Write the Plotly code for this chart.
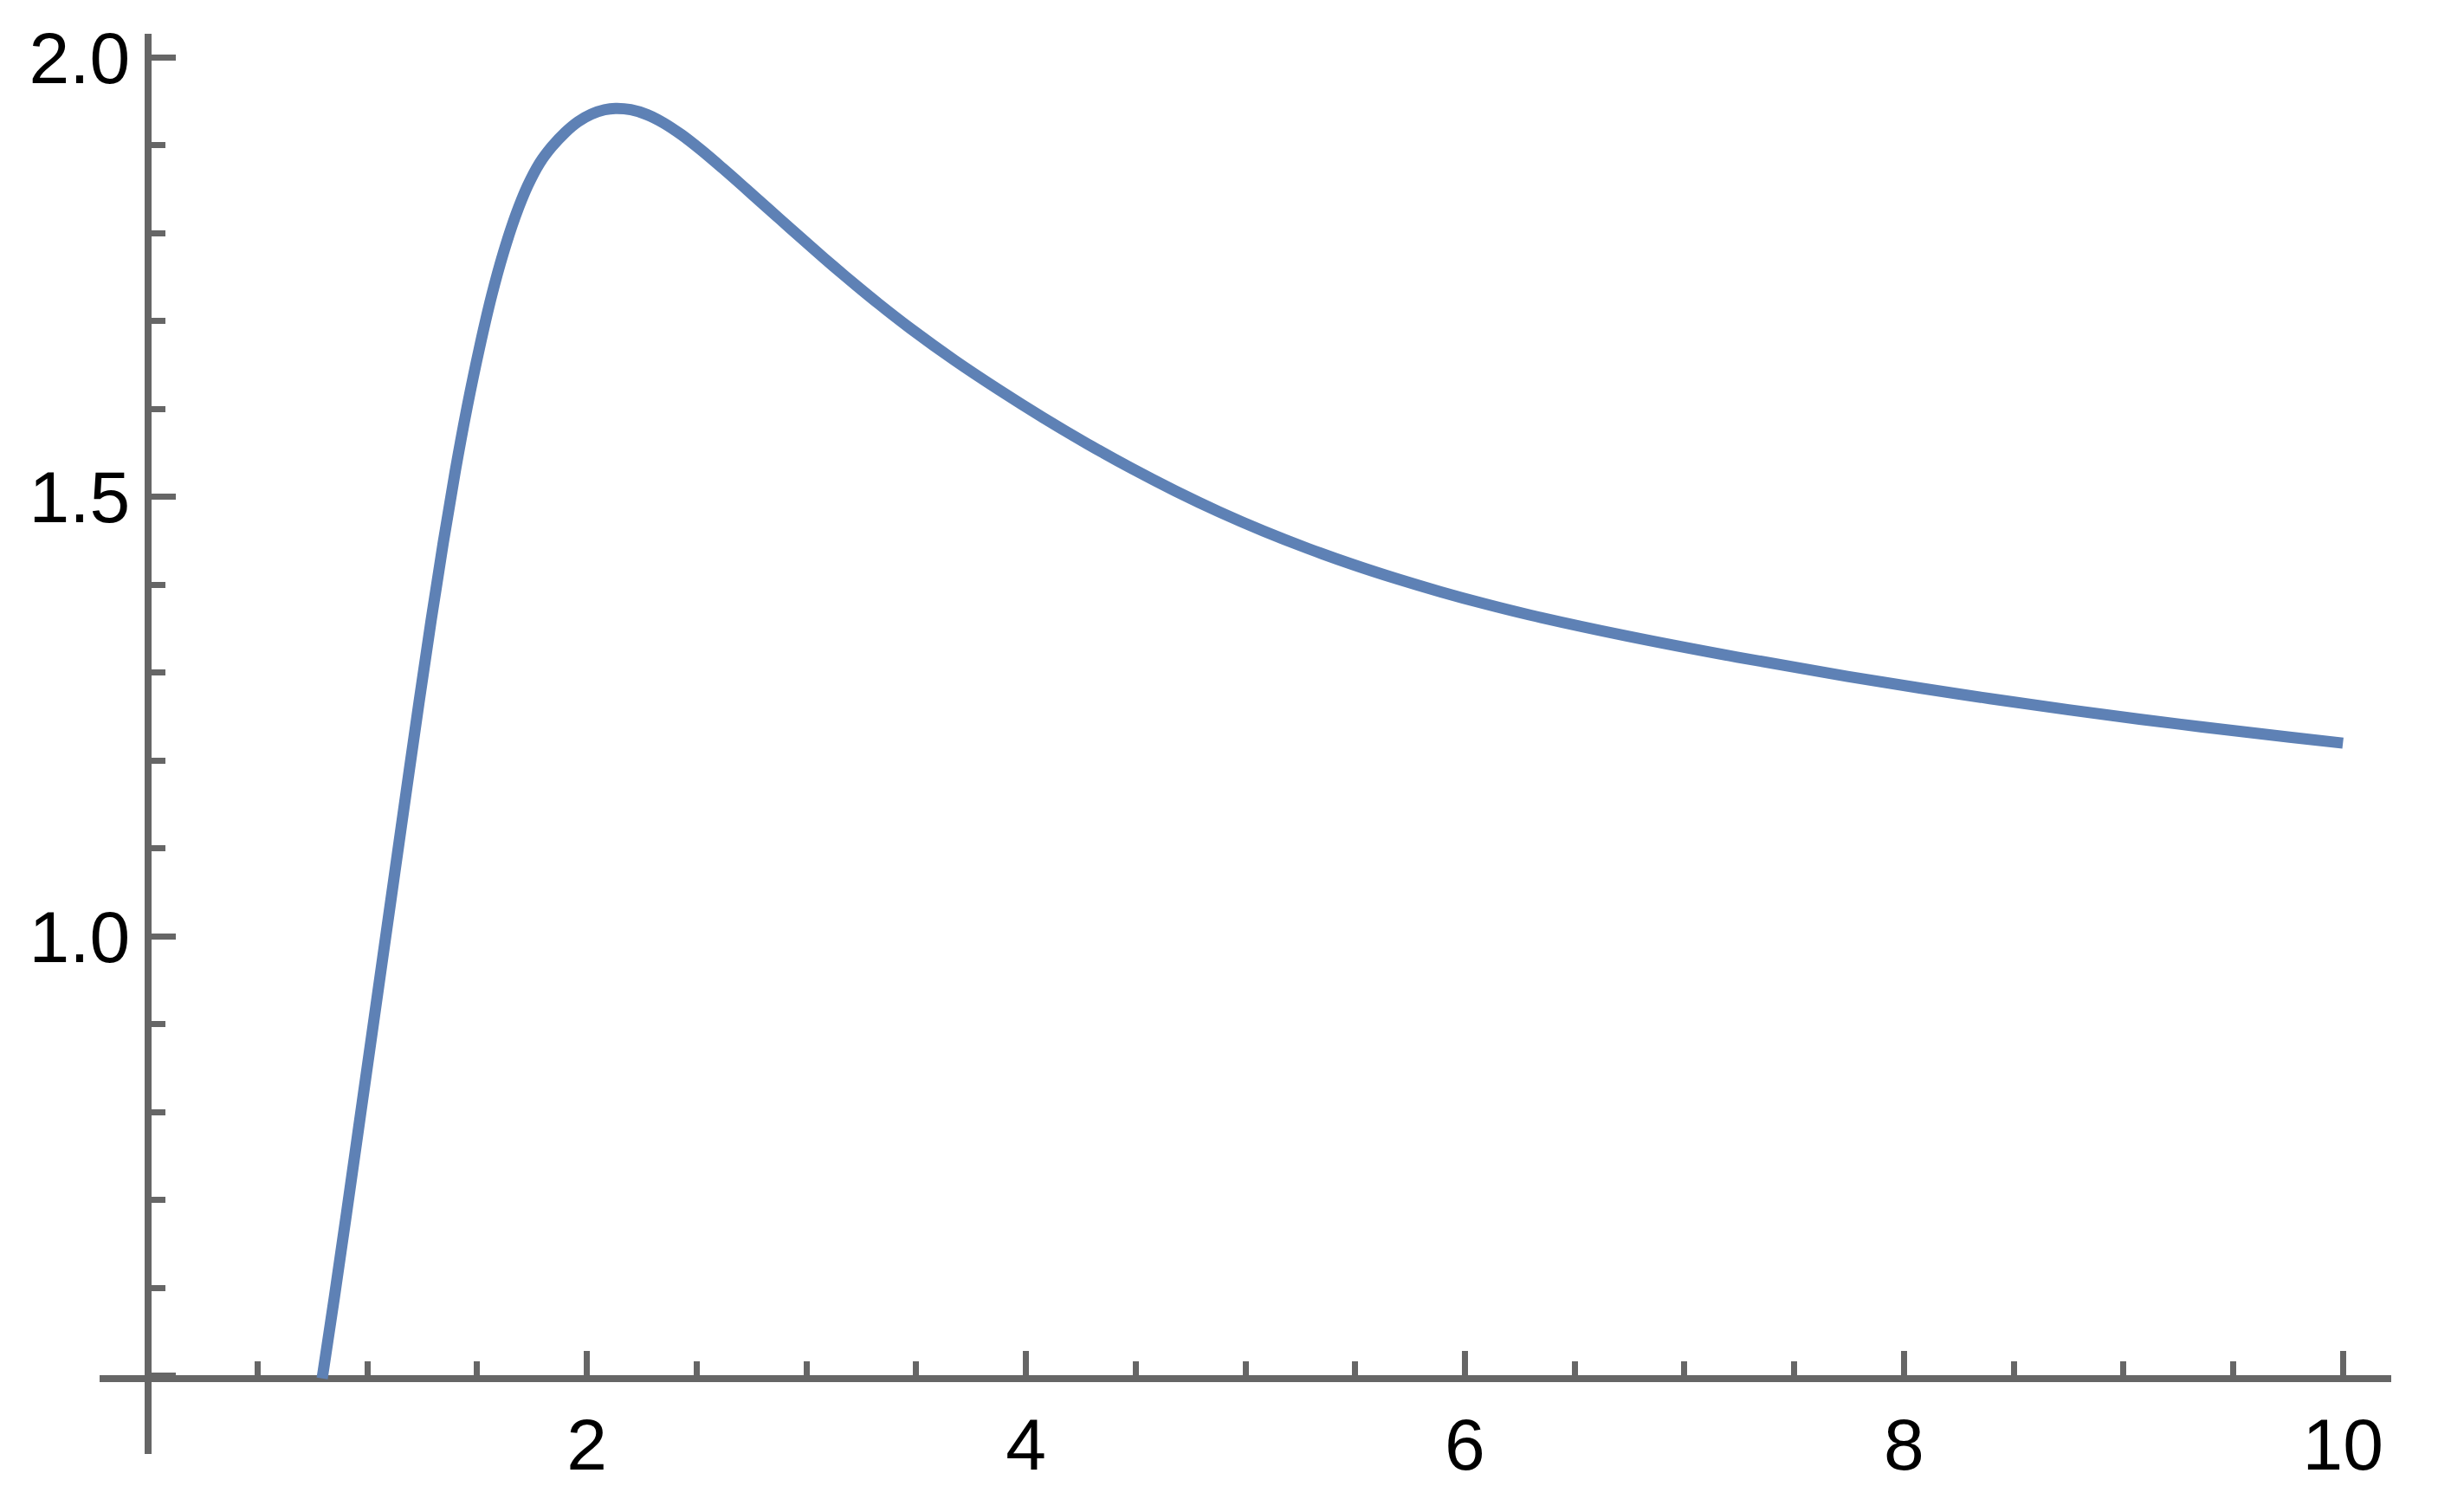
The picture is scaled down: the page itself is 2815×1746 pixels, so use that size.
import plotly.graph_objects as go

# Curve samples
x_vals = [0.794, 0.850, 0.905, 0.960, 1.015, 1.070, 1.125, 1.180, 1.235, 1.290,
          1.345, 1.400, 1.455, 1.510, 1.565, 1.620, 1.675, 1.730, 1.785, 1.840,
          1.900, 1.960, 2.020, 2.080, 2.130, 2.200, 2.274, 2.350, 2.430, 2.520,
          2.620, 2.725, 2.830, 2.926, 3.030, 3.127, 3.230, 3.329, 3.475, 3.676,
          3.877, 4.078, 4.280, 4.481, 4.682, 4.883, 5.085, 5.286, 5.488, 5.689,
          5.890, 6.091, 6.293, 6.737, 7.240, 7.743, 8.246, 8.750, 9.253, 9.757,
          10.0]
y_vals = [0.497, 0.590, 0.685, 0.782, 0.879, 0.976, 1.073, 1.170, 1.266, 1.359,
          1.447, 1.529, 1.603, 1.669, 1.728, 1.778, 1.820, 1.854, 1.880, 1.8985,
          1.9145, 1.927, 1.9355, 1.9405, 1.942, 1.9406, 1.935, 1.9255, 1.9123, 1.8948,
          1.8736, 1.8505, 1.8271, 1.8057, 1.7827, 1.7617, 1.7400, 1.7198, 1.6915, 1.6553,
          1.6219, 1.5903, 1.5604, 1.5325, 1.5066, 1.4827, 1.4609, 1.4412, 1.4232, 1.4069,
          1.3920, 1.3783, 1.3658, 1.3418, 1.3177, 1.2958, 1.2759, 1.2578, 1.2415, 1.2266,
          1.2199]

x_tick_vals = [2, 4, 6, 8, 10]
x_tick_text = ["2", "4", "6", "8", "10"]
y_tick_vals = [0.5, 1.0, 1.5, 2.0]
y_tick_text = ["", "1.0", "1.5", "2.0"]

X_RANGE = [-0.22, 10.22]
Y_RANGE = [0.411, 2.027]
X_AXIS_AT = 0.4966   # y value where the horizontal axis crosses
Y_AXIS_AT = 0.0      # x value where the vertical axis crosses

AXIS_COLOR = "#666666"
LINE_COLOR = "#5E81B5"
FONT = dict(family="Liberation Sans, Arial, sans-serif", size=84, color="black")

fig = go.Figure()
fig.add_trace(go.Scatter(
    x=x_vals, y=y_vals, mode="lines",
    line=dict(color=LINE_COLOR, width=13, shape="spline", smoothing=1.0),
    hoverinfo="skip", showlegend=False,
))

xpos = (X_AXIS_AT - Y_RANGE[0]) / (Y_RANGE[1] - Y_RANGE[0])
ypos = (Y_AXIS_AT - X_RANGE[0]) / (X_RANGE[1] - X_RANGE[0])

# page body has an 8px default margin, so the figure is made 16px smaller
fig.update_layout(
    width=2799, height=1730,
    margin=dict(l=107, r=46, t=31, b=59, pad=0),
    paper_bgcolor="white", plot_bgcolor="white",
    showlegend=False,
    xaxis=dict(
        range=X_RANGE, anchor="free", position=xpos, side="bottom",
        showline=True, linecolor=AXIS_COLOR, linewidth=7.5,
        showgrid=False, zeroline=False, automargin=False,
        tickmode="array", tickvals=x_tick_vals, ticktext=x_tick_text,
        ticks="inside", ticklen=28, tickwidth=7, tickcolor=AXIS_COLOR,
        tickfont=FONT, layer="below traces",
        minor=dict(ticks="inside", ticklen=16, tickwidth=7, tickcolor=AXIS_COLOR,
                   tick0=0, dtick=0.5, showgrid=False),
    ),
    yaxis=dict(
        range=Y_RANGE, anchor="free", position=ypos, side="left",
        showline=True, linecolor=AXIS_COLOR, linewidth=7.5,
        showgrid=False, zeroline=False, automargin=False,
        tickmode="array", tickvals=y_tick_vals, ticktext=y_tick_text,
        ticks="inside", ticklen=28, tickwidth=7, tickcolor=AXIS_COLOR,
        tickfont=FONT, layer="below traces",
        minor=dict(ticks="inside", ticklen=16, tickwidth=7, tickcolor=AXIS_COLOR,
                   tick0=0.5, dtick=0.1, showgrid=False),
    ),
)

fig.write_html("out.html")
